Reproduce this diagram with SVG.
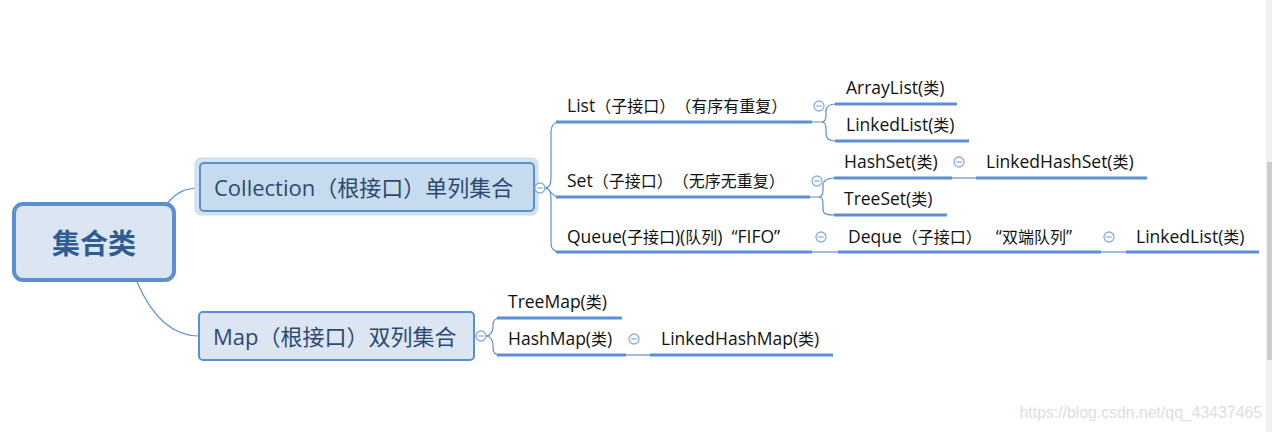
<svg xmlns="http://www.w3.org/2000/svg" width="1272" height="432" viewBox="0 0 1272 432">
<style>
text{text-spacing-trim:space-all}
.t{font-family:"Open Sans","Noto Sans CJK SC",sans-serif;font-size:17.5px;fill:#111}
.c{font-family:"Noto Sans CJK SC",sans-serif;font-size:16px}
.big{font-family:"Open Sans","Noto Sans CJK SC",sans-serif;font-size:22px;fill:#2c4a70}
.ul{stroke:#5b8fd4;stroke-width:3;fill:none}
.cn{stroke:#5b8fd4;stroke-width:1.2;fill:none}
.col{fill:#fff;stroke:#8aaee0;stroke-width:1.3}
.dash{stroke:#8aaee0;stroke-width:1.3}
</style>
<defs>
<g id="collapse"><circle class="col" cx="0" cy="0" r="5"/><line class="dash" x1="-2.8" y1="0" x2="2.8" y2="0"/></g>
</defs>
<rect width="1272" height="432" fill="#fff"/>
<g id="connectors">
<path class="cn" d="M166,205 C176,192 186,188 199,188"/>
<path class="cn" d="M137,282 C150,312 170,336 199,336"/>
<path class="cn" d="M534,188 L545,188 C549,188 551,184 551,178 L551,132 C551,125 554,122 560,122"/>
<path class="cn" d="M545,188 C550,188 551,197 560,197"/>
<path class="cn" d="M545,188 C549,188 551,192 551,198 L551,243 C551,249 554,252 560,252"/>
<path class="cn" d="M810,122 L822,122 C825,122 826,119 826,115 L826,111 C826,106 829,104 836,104"/>
<path class="cn" d="M822,122 C825,122 826,125 826,129 L826,134 C826,139 829,141 836,141"/>
<path class="cn" d="M808,197 L819,197 C822,197 823,194 823,190 L823,186 C823,181 826,178 835,178"/>
<path class="cn" d="M819,197 C822,197 823,200 823,204 L823,209 C823,214 826,215 835,215"/>
<path class="cn" d="M810,252 L840,252"/>
<path class="cn" d="M950,178 L978,178"/>
<path class="cn" d="M1100,252 L1128,252"/>
<path class="cn" d="M474,336 L486,336 C490,336 493,332 493,327 L493,325 C493,320 496,318 500,318"/>
<path class="cn" d="M486,336 C490,336 493,340 493,345 L493,348 C493,353 496,355 500,355"/>
<path class="cn" d="M624,355 L652,355"/>
</g>
<g id="root">
<rect x="14" y="204" width="160" height="76" rx="9" fill="#dce6f2" stroke="#5b8fd4" stroke-width="4"/>
<text x="94" y="254" text-anchor="middle" font-family="'Noto Sans CJK SC',sans-serif" font-size="28" font-weight="bold" fill="#305c92">集合类</text>
</g>
<g id="collection">
<rect x="195" y="158" width="343" height="57" rx="6" fill="#d3e3f0" stroke="#c8dbeb" stroke-width="1"/>
<rect x="200" y="163" width="334" height="48" rx="4" fill="#c6dcee" stroke="#5b8fd4" stroke-width="2"/>
<text class="big" x="214" y="196">Collection（根接口）单列集合</text>
<use href="#collapse" x="540" y="188"/>
</g>
<g id="map">
<rect x="199" y="312" width="275" height="48" rx="4" fill="#dce6f2" stroke="#5b8fd4" stroke-width="2"/>
<text class="big" x="213" y="345">Map（根接口）双列集合</text>
<use href="#collapse" x="481" y="336"/>
</g>
<g id="list">
<text class="t" x="567" y="112">List<tspan class="c">（子接口）（有序有重复）</tspan></text>
<line class="ul" x1="556" y1="122" x2="812" y2="122"/>
<use href="#collapse" x="819" y="106"/>
</g>
<g id="set">
<text class="t" x="567" y="187">Set<tspan class="c">（子接口）（无序无重复）</tspan></text>
<line class="ul" x1="556" y1="197" x2="810" y2="197"/>
<use href="#collapse" x="817" y="181"/>
</g>
<g id="queue">
<text class="t" x="567" y="243">Queue(<tspan class="c">子接口</tspan>)(<tspan class="c">队列</tspan>)<tspan dx="9">“</tspan>FIFO”</text>
<line class="ul" x1="556" y1="252" x2="812" y2="252"/>
<use href="#collapse" x="821" y="237"/>
</g>
<g id="arraylist">
<text class="t" x="846" y="94">ArrayList(<tspan class="c">类</tspan>)</text>
<line class="ul" x1="835" y1="104" x2="957" y2="104"/>
</g>
<g id="linkedlist1">
<text class="t" x="846" y="131">LinkedList(<tspan class="c">类</tspan>)</text>
<line class="ul" x1="835" y1="141" x2="969" y2="141"/>
</g>
<g id="hashset">
<text class="t" x="844" y="168">HashSet(<tspan class="c">类</tspan>)</text>
<line class="ul" x1="834" y1="178" x2="952" y2="178"/>
<use href="#collapse" x="959" y="162"/>
</g>
<g id="linkedhashset">
<text class="t" x="986" y="168">LinkedHashSet(<tspan class="c">类</tspan>)</text>
<line class="ul" x1="976" y1="178" x2="1147" y2="178"/>
</g>
<g id="treeset">
<text class="t" x="844" y="205">TreeSet(<tspan class="c">类</tspan>)</text>
<line class="ul" x1="834" y1="215" x2="947" y2="215"/>
</g>
<g id="deque">
<text class="t" x="848" y="243">Deque<tspan class="c">（子接口）</tspan><tspan dx="14">“</tspan><tspan class="c">双端队列</tspan>”</text>
<line class="ul" x1="838" y1="252" x2="1101" y2="252"/>
<use href="#collapse" x="1109" y="237"/>
</g>
<g id="linkedlist2">
<text class="t" x="1136" y="243">LinkedList(<tspan class="c">类</tspan>)</text>
<line class="ul" x1="1126" y1="252" x2="1259" y2="252"/>
</g>
<g id="treemap">
<text class="t" x="508" y="308">TreeMap(<tspan class="c">类</tspan>)</text>
<line class="ul" x1="497" y1="318" x2="622" y2="318"/>
</g>
<g id="hashmap">
<text class="t" x="508" y="345">HashMap(<tspan class="c">类</tspan>)</text>
<line class="ul" x1="497" y1="355" x2="626" y2="355"/>
<use href="#collapse" x="634" y="339"/>
</g>
<g id="linkedhashmap">
<text class="t" x="661" y="345">LinkedHashMap(<tspan class="c">类</tspan>)</text>
<line class="ul" x1="650" y1="355" x2="833" y2="355"/>
</g>
<text x="1262" y="418" text-anchor="end" font-family="'Liberation Sans',sans-serif" font-size="15.8" fill="#dedede">https://blog.csdn.net/qq_43437465</text>
<rect x="1266" y="0" width="6" height="432" fill="#f1f1f1"/>
<rect x="1267" y="162" width="5" height="198" fill="#cdcdcd"/>
</svg>
